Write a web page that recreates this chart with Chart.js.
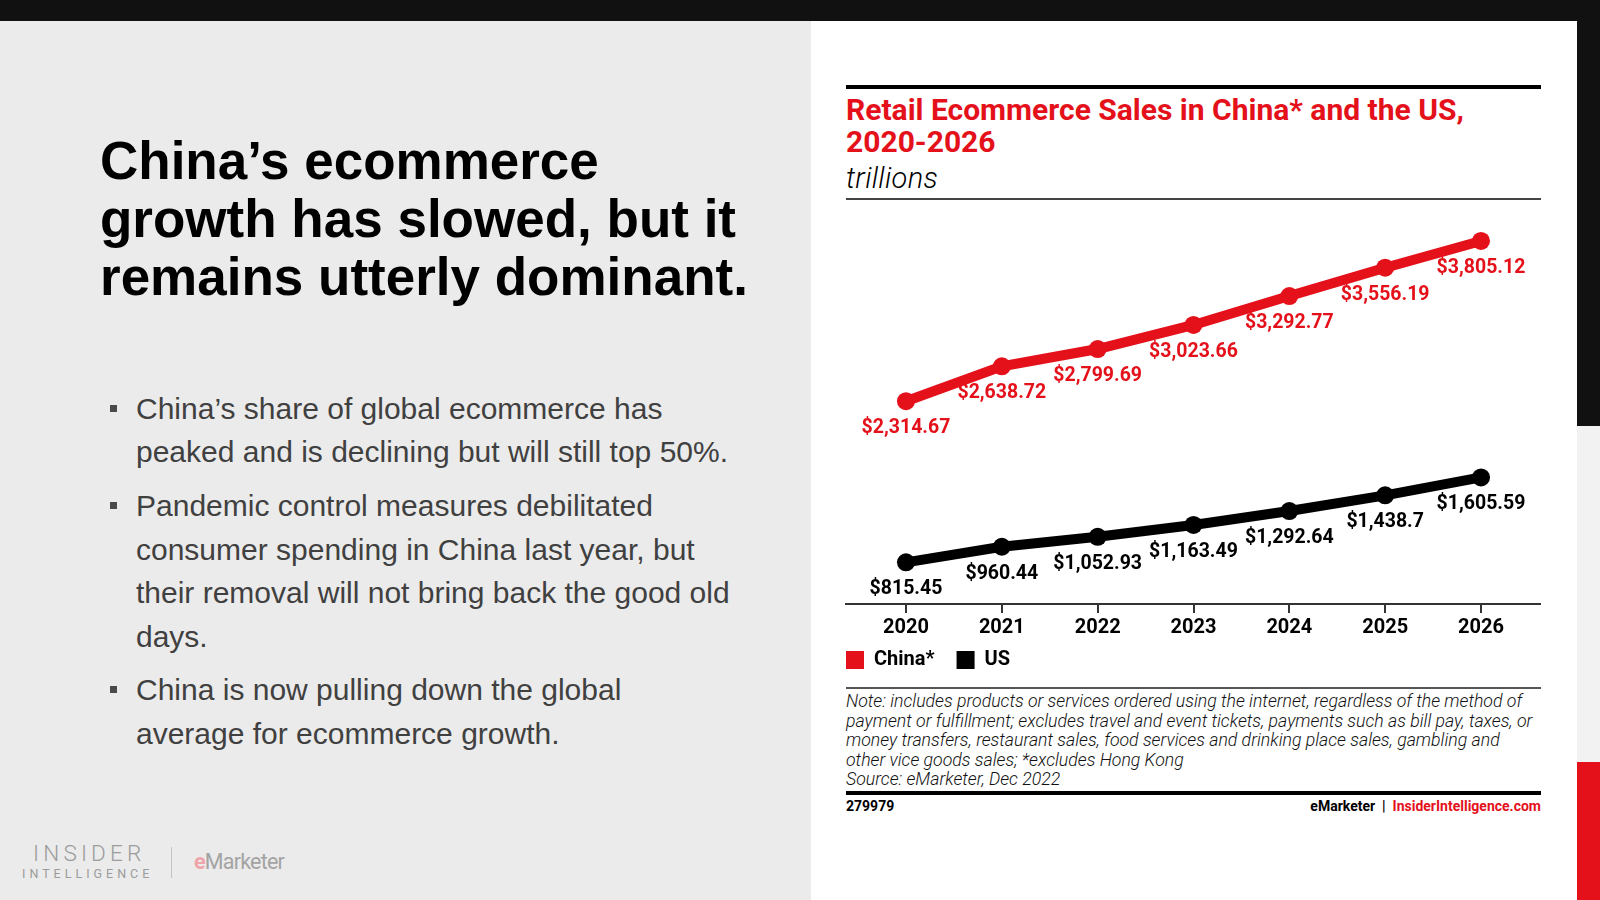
<!DOCTYPE html>
<html>
<head>
<meta charset="utf-8">
<title>Retail Ecommerce Sales in China* and the US, 2020-2026</title>
<script src="https://cdn.jsdelivr.net/npm/chart.js@4.4.1/dist/chart.umd.min.js"></script>
<style>
body{
    margin:0;
    width:1600px;
    height:900px;
    position:relative;
    overflow:hidden;
    background:#ebebeb;
    font-family:"Liberation Sans", Arial, sans-serif;
}
.abs{ position:absolute; }

/* frame */
#topbar{ left:0; top:0; width:1600px; height:21px; background:#111; }
#panel{ left:811px; top:21px; width:766px; height:879px; background:#fff; }
#stripTop{ left:1577px; top:21px; width:23px; height:405px; background:#111; }
#stripMid{ left:1577px; top:426px; width:23px; height:336px; background:#f2f2f2; }
#stripBot{ left:1577px; top:762px; width:23px; height:138px; background:#e4111b; }

/* left side text */
#headline{
    left:100px; top:132px;
    font-weight:bold; font-size:53px; line-height:58px;
    color:#000; white-space:nowrap;
}
#bullets{
    left:136px; top:387px;
    margin:0; padding:0; list-style:none;
    font-size:30px; line-height:43.4px; color:#404040;
    white-space:nowrap;
}
#bullets li{ position:relative; margin-bottom:10.5px; }
#bullets li::before{
    content:""; position:absolute;
    left:-26px; top:18px; width:7px; height:7px; background:#4a4a4a;
}

/* logo */
#logoInsider{ left:33px; top:840px; font-family:Roboto; font-weight:300; font-size:22.5px; letter-spacing:4.2px; color:#9c9c9c; }
#logoIntel{ left:22px; top:866px; font-family:Roboto; font-size:12.5px; letter-spacing:4px; color:#9c9c9c; }
#logoDivider{ left:171px; top:847px; width:1px; height:31px; background:#c4c4c4; }
#logoEm{ left:194px; top:849px; font-family:Roboto; font-size:21.5px; letter-spacing:-0.8px; color:#a3a3a3; }
#logoEm span{ color:#f0a3aa; font-weight:bold; }

/* chart card */
#rule1{ left:846px; top:85px; width:695px; height:4px; background:#000; }
#chartTitle{
    left:846px; top:94px;
    font-family:Roboto; font-weight:700; font-size:30px; line-height:32px;
    color:#e4111b; white-space:nowrap;
}
#chartSub{
    left:846px; top:160px;
    font-family:Roboto; font-style:italic; font-weight:300; font-size:29px; line-height:36px;
    letter-spacing:0.3px; color:#000;
}
#rule2{ left:846px; top:198px; width:695px; height:2px; background:#444; }
#chartBox{ left:824px; top:200px; width:717px; height:480px; }
#rule3{ left:846px; top:687px; width:695px; height:2px; background:#555; }
#note{
    left:846px; top:692px;
    font-family:Roboto; font-style:italic; font-weight:300; font-size:17.7px; line-height:19.5px;
    color:#111; white-space:nowrap;
}
#rule4{ left:846px; top:791px; width:695px; height:4px; background:#000; }
#footId{ left:846px; top:798px; font-family:Roboto; font-weight:700; font-size:14px; color:#000; }
#footSrc{ right:59px; top:798px; font-family:Roboto; font-weight:700; font-size:14px; color:#000; }
#footSrc span{ color:#e4111b; }
</style>
</head>
<body>

<div id="topbar" class="abs"></div>
<div id="panel" class="abs"></div>
<div id="stripTop" class="abs"></div>
<div id="stripMid" class="abs"></div>
<div id="stripBot" class="abs"></div>

<div id="headline" class="abs">China’s ecommerce<br>growth has slowed, but it<br>remains utterly dominant.</div>

<ul id="bullets" class="abs">
    <li>China’s share of global ecommerce has<br>peaked and is declining but will still top 50%.</li>
    <li>Pandemic control measures debilitated<br>consumer spending in China last year, but<br>their removal will not bring back the good old<br>days.</li>
    <li>China is now pulling down the global<br>average for ecommerce growth.</li>
</ul>

<div id="logoInsider" class="abs">INSIDER</div>
<div id="logoIntel" class="abs">INTELLIGENCE</div>
<div id="logoDivider" class="abs"></div>
<div id="logoEm" class="abs"><span>e</span>Marketer</div>

<div id="rule1" class="abs"></div>
<div id="chartTitle" class="abs">Retail Ecommerce Sales in China* and the US,<br>2020-2026</div>
<div id="chartSub" class="abs">trillions</div>
<div id="rule2" class="abs"></div>

<div id="chartBox" class="abs"><canvas id="salesChart"></canvas></div>

<div id="rule3" class="abs"></div>
<div id="note" class="abs">Note: includes products or services ordered using the internet, regardless of the method of<br>payment or fulfillment; excludes travel and event tickets, payments such as bill pay, taxes, or<br>money transfers, restaurant sales, food services and drinking place sales, gambling and<br>other vice goods sales; *excludes Hong Kong<br>Source: eMarketer, Dec 2022</div>
<div id="rule4" class="abs"></div>
<div id="footId" class="abs">279979</div>
<div id="footSrc" class="abs">eMarketer &nbsp;|&nbsp; <span>InsiderIntelligence.com</span></div>

<script>
/* =========================
   DATA
========================= */
const years = [2020, 2021, 2022, 2023, 2024, 2025, 2026];
const chinaSales = [2314.67, 2638.72, 2799.69, 3023.66, 3292.77, 3556.19, 3805.12];
const usSales = [815.45, 960.44, 1052.93, 1163.49, 1292.64, 1438.7, 1605.59];
const seriesNames = ['China*', 'US'];

const RED = '#e4111b';
const BLACK = '#000000';

Chart.defaults.font.family = 'Roboto';

/* =========================
   VALUE LABEL FORMAT
========================= */
function money(v){
    return '$' + v.toLocaleString('en-US', {maximumFractionDigits: 2});
}

/* =========================
   LABELS UNDER EACH POINT
========================= */
const pointLabels = {
    id: 'pointLabels',
    afterDatasetsDraw(chart){
        const ctx = chart.ctx;
        ctx.save();
        ctx.font = 'bold 19.5px Roboto';
        ctx.textAlign = 'center';
        ctx.textBaseline = 'middle';

        chart.data.datasets.forEach((ds, i) => {
            const meta = chart.getDatasetMeta(i);
            ctx.fillStyle = ds.borderColor;
            meta.data.forEach((pt, j) => {
                ctx.fillText(money(ds.data[j]), pt.x, pt.y + 27);
            });
        });
        ctx.restore();
    }
};

/* =========================
   LEGEND (plain squares)
========================= */
function squareLabels(chart){
    let items = Chart.defaults.plugins.legend.labels.generateLabels(chart);
    items.forEach(it => {
        it.lineWidth = 0;
        it.strokeStyle = it.fillStyle;
    });
    return items;
}

/* =========================
   CHART
========================= */
function lineSet(name, values, color){
    return {
        label: name,
        data: values,
        borderColor: color,
        backgroundColor: color,
        borderWidth: 10,
        pointRadius: 9,
        pointBackgroundColor: color,
        pointBorderWidth: 0,
        tension: 0,
        clip: false
    };
}

const salesChart = new Chart(document.getElementById('salesChart'), {
    type: 'line',
    data: {
        labels: years,
        datasets: [
            lineSet(seriesNames[0], chinaSales, RED),
            lineSet(seriesNames[1], usSales, BLACK)
        ]
    },
    options: {
        responsive: true,
        maintainAspectRatio: false,
        animation: false,
        layout: { autoPadding: false, padding: { top: 10, right: 0, bottom: 0, left: 0 } },
        plugins: {
            legend: {
                position: 'bottom',
                align: 'start',
                labels: {
                    boxWidth: 18,
                    boxHeight: 18,
                    padding: 22,
                    color: '#000',
                    font: { size: 20, weight: 'bold' },
                    generateLabels: squareLabels
                }
            },
            tooltip: { enabled: false }
        },
        scales: {
            x: {
                type: 'linear',
                min: 2019.374,
                max: 2026.626,
                afterBuildTicks: s => { s.ticks = years.map(v => ({value: v})); },
                afterFit: s => { s.height = 24; },
                grid: {
                    display: true,
                    drawOnChartArea: false,
                    drawTicks: true,
                    tickLength: 9,
                    color: '#333',
                    lineWidth: 2
                },
                border: { display: true, color: '#333', width: 2 },
                ticks: {
                    color: '#000',
                    mirror: true,
                    padding: -36,
                    font: { size: 20, weight: 'bold' },
                    callback: v => String(v)
                }
            },
            y: {
                min: 428,
                max: 4093,
                afterFit: s => { s.width = 22; },
                grid: { display: false },
                border: { display: false },
                ticks: { display: false }
            }
        }
    },
    plugins: [pointLabels]
});
</script>
</body>
</html>
